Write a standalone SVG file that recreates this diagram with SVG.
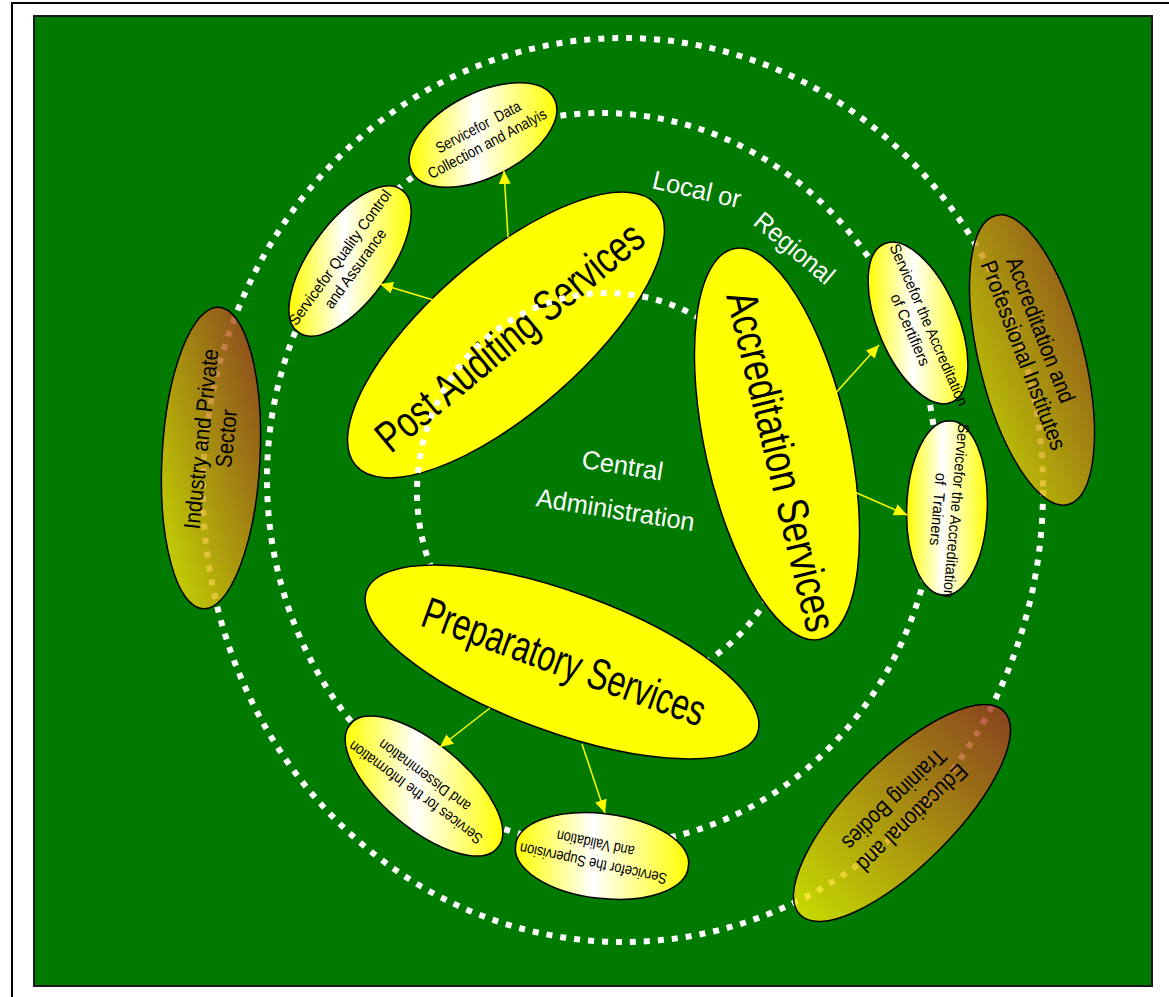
<svg xmlns="http://www.w3.org/2000/svg" width="1169" height="997" viewBox="0 0 1169 997">
<defs>
<style>
.t{font-family:"Liberation Sans",Arial,sans-serif;fill:#000}
.sm{font-size:15.5px}
.big{font-size:44px}
.out{font-size:23px}
.wt{font-family:"Liberation Sans",Arial,sans-serif;fill:#fff;font-size:26px}
.ring{fill:none;stroke:#fff;stroke-width:6;stroke-dasharray:6 8}
.yel{fill:#ffff00;stroke:#000;stroke-width:1.5}
.svc{fill:url(#gSvc);stroke:#000;stroke-width:1.5}
.ext{fill:url(#gExt);fill-opacity:0.82;stroke:#000;stroke-width:1.5}
.conn{stroke:#ffff00;stroke-width:1.5;fill:none;marker-end:url(#ah)}
</style>
<linearGradient id="gSvc" x1="0" y1="0" x2="1" y2="0"><stop offset="0" stop-color="#ffff00"/><stop offset="0.45" stop-color="#ffffff"/><stop offset="1" stop-color="#ffff00"/></linearGradient>
<linearGradient id="gExt" x1="0" y1="1" x2="1" y2="0"><stop offset="0" stop-color="#f4f400"/><stop offset="1" stop-color="#a53426"/></linearGradient>
<marker id="ah" markerUnits="userSpaceOnUse" markerWidth="13" markerHeight="12" refX="13" refY="6" orient="auto"><path d="M0,0 L13,6 L0,12 z" fill="#ffff00"/></marker>
</defs>

<rect x="12" y="3" width="1200" height="1100" fill="#fff" stroke="#000" stroke-width="2"/>
<rect x="34" y="16" width="1118" height="970" fill="#007a00" stroke="#1a1a1a" stroke-width="2"/>

<g id="post-auditing">
<ellipse class="yel" cx="0" cy="0" rx="199" ry="77" transform="translate(506,335) rotate(-41)"/>
<text class="t big" x="0" y="16" text-anchor="middle" textLength="333" lengthAdjust="spacingAndGlyphs" transform="translate(509,336) rotate(-39.5)">Post Auditing Services</text>
</g>

<g id="rings">
<ellipse class="ring" cx="623" cy="490" rx="420" ry="452"/>
<ellipse class="ring" cx="602" cy="479" rx="335" ry="366"/>
<ellipse class="ring" cx="607" cy="492" rx="190" ry="199"/>
</g>

<g id="accreditation-services">
<ellipse class="yel" cx="0" cy="0" rx="200" ry="72" transform="translate(777,444) rotate(77.5)"/>
<text class="t big" x="18" y="15" text-anchor="middle" textLength="348" lengthAdjust="spacingAndGlyphs" transform="translate(777,444) rotate(76.5)">Accreditation Services</text>
</g>

<g id="preparatory-services">
<ellipse class="yel" cx="0" cy="0" rx="208" ry="70" transform="translate(562,662) rotate(20)"/>
<text class="t big" x="2" y="14" text-anchor="middle" textLength="298" lengthAdjust="spacingAndGlyphs" transform="translate(562,662) rotate(20)">Preparatory Services</text>
</g>

<g id="svc-data">
<path class="svc" d="M554.3,98.7 A80,42 -27 1 1 411.7,171.3 A80,42 -27 1 1 554.3,98.7 Z"/>
<g transform="translate(483,136) rotate(-28)">
<text class="t sm" x="0" y="-5" text-anchor="middle" xml:space="preserve" textLength="94" lengthAdjust="spacingAndGlyphs">Servicefor  Data</text>
<text class="t sm" x="0" y="14" text-anchor="middle" textLength="132" lengthAdjust="spacingAndGlyphs">Collection and Analyis</text>
</g>
</g>

<g id="svc-quality">
<path class="svc" d="M401.7,189.8 A88,39 -54 1 1 298.3,332.2 A88,39 -54 1 1 401.7,189.8 Z"/>
<g transform="translate(350,261) rotate(-54)">
<text class="t sm" x="-3" y="-5" text-anchor="middle" textLength="163" lengthAdjust="spacingAndGlyphs">Servicefor Quality Control</text>
<text class="t sm" x="-3" y="14" text-anchor="middle" textLength="94" lengthAdjust="spacingAndGlyphs">and Assurance</text>
</g>
</g>

<g id="svc-certifiers">
<path class="svc" d="M951.6,402.2 A86,40 67 1 1 884.4,243.8 A86,40 67 1 1 951.6,402.2 Z"/>
<g transform="translate(918,323) rotate(66.5)">
<text class="t sm" x="6" y="-4" text-anchor="middle" textLength="175" lengthAdjust="spacingAndGlyphs">Servicefor the Accreditation</text>
<text class="t sm" x="3" y="15" text-anchor="middle" textLength="77" lengthAdjust="spacingAndGlyphs">of Certifiers</text>
</g>
</g>

<g id="svc-trainers">
<path class="svc" d="M944,594.9 A87,39 92 1 1 950,421.1 A87,39 92 1 1 944,594.9 Z"/>
<g transform="translate(947,508) rotate(95)">
<text class="t sm" x="2" y="-4" text-anchor="middle" textLength="175" lengthAdjust="spacingAndGlyphs">Servicefor the Accreditation</text>
<text class="t sm" x="2" y="14" text-anchor="middle" xml:space="preserve" textLength="73" lengthAdjust="spacingAndGlyphs">of  Trainers</text>
</g>
</g>

<g id="svc-information">
<path class="svc" d="M497.5,847.7 A96,41 40 1 1 350.5,724.3 A96,41 40 1 1 497.5,847.7 Z"/>
<g transform="translate(424,786) rotate(216.5)">
<text class="t sm" x="3" y="-5" text-anchor="middle" textLength="162" lengthAdjust="spacingAndGlyphs">Services for the Information</text>
<text class="t sm" x="6" y="14" text-anchor="middle" textLength="110" lengthAdjust="spacingAndGlyphs">and Dissemination</text>
</g>
</g>

<g id="svc-supervision">
<path class="svc" d="M688.3,866.6 A87,41 7 1 1 515.7,845.4 A87,41 7 1 1 688.3,866.6 Z"/>
<g transform="translate(602,856) rotate(192)">
<text class="t sm" x="7" y="-4" text-anchor="middle" textLength="150" lengthAdjust="spacingAndGlyphs">Servicefor the Supervision</text>
<text class="t sm" x="9" y="16" text-anchor="middle" textLength="79" lengthAdjust="spacingAndGlyphs">and Validation</text>
</g>
</g>

<g id="industry">
<path class="ext" d="M218.9,307.2 A151,49 -87 1 1 203.1,608.8 A151,49 -87 1 1 218.9,307.2 Z"/>
<g transform="translate(211,458) rotate(-84)">
<text class="t out" x="18" y="-4" text-anchor="middle" textLength="181" lengthAdjust="spacingAndGlyphs">Industry and Private</text>
<text class="t out" x="21" y="21" text-anchor="middle" textLength="58" lengthAdjust="spacingAndGlyphs">Sector</text>
</g>
</g>

<g id="professional-institutes">
<path class="ext" d="M1068.04,504.57 A149,52 76 1 1 995.96,215.43 A149,52 76 1 1 1068.04,504.57 Z"/>
<g transform="translate(1032,360) rotate(69)">
<text class="t out" x="-102" y="-11" textLength="154" lengthAdjust="spacingAndGlyphs">Accreditation and</text>
<text class="t out" x="-108" y="14" textLength="201" lengthAdjust="spacingAndGlyphs">Professional Institutes</text>
</g>
</g>

<g id="educational">
<path class="ext" d="M1003.82,711.18 A144,52 -45 1 1 800.18,914.82 A144,52 -45 1 1 1003.82,711.18 Z"/>
<g transform="translate(902,813) rotate(136)">
<text class="t out" x="-4" y="-3" text-anchor="middle" textLength="144" lengthAdjust="spacingAndGlyphs">Educational and</text>
<text class="t out" x="-4" y="23" text-anchor="middle" textLength="135" lengthAdjust="spacingAndGlyphs">Training Bodies</text>
</g>
</g>

<g id="connectors">
<line class="conn" x1="508" y1="237" x2="504" y2="171"/>
<line class="conn" x1="440" y1="302" x2="380" y2="284"/>
<line class="conn" x1="833" y1="396" x2="879" y2="345"/>
<line class="conn" x1="850" y1="490" x2="907" y2="515"/>
<line class="conn" x1="490" y1="708" x2="440" y2="747"/>
<line class="conn" x1="582" y1="744" x2="605" y2="813"/>
</g>

<g id="labels">
<text class="wt" x="0" y="0" textLength="90" lengthAdjust="spacingAndGlyphs" transform="translate(651,188) rotate(13)">Local or</text>
<text class="wt" x="0" y="0" textLength="96" lengthAdjust="spacingAndGlyphs" transform="translate(752,224) rotate(40)">Regional</text>
<g transform="translate(619,488) rotate(9)">
<text class="wt" x="0" y="-14" text-anchor="middle" textLength="82" lengthAdjust="spacingAndGlyphs">Central</text>
<text class="wt" x="0" y="31" text-anchor="middle" textLength="160" lengthAdjust="spacingAndGlyphs">Administration</text>
</g>
</g>
</svg>
